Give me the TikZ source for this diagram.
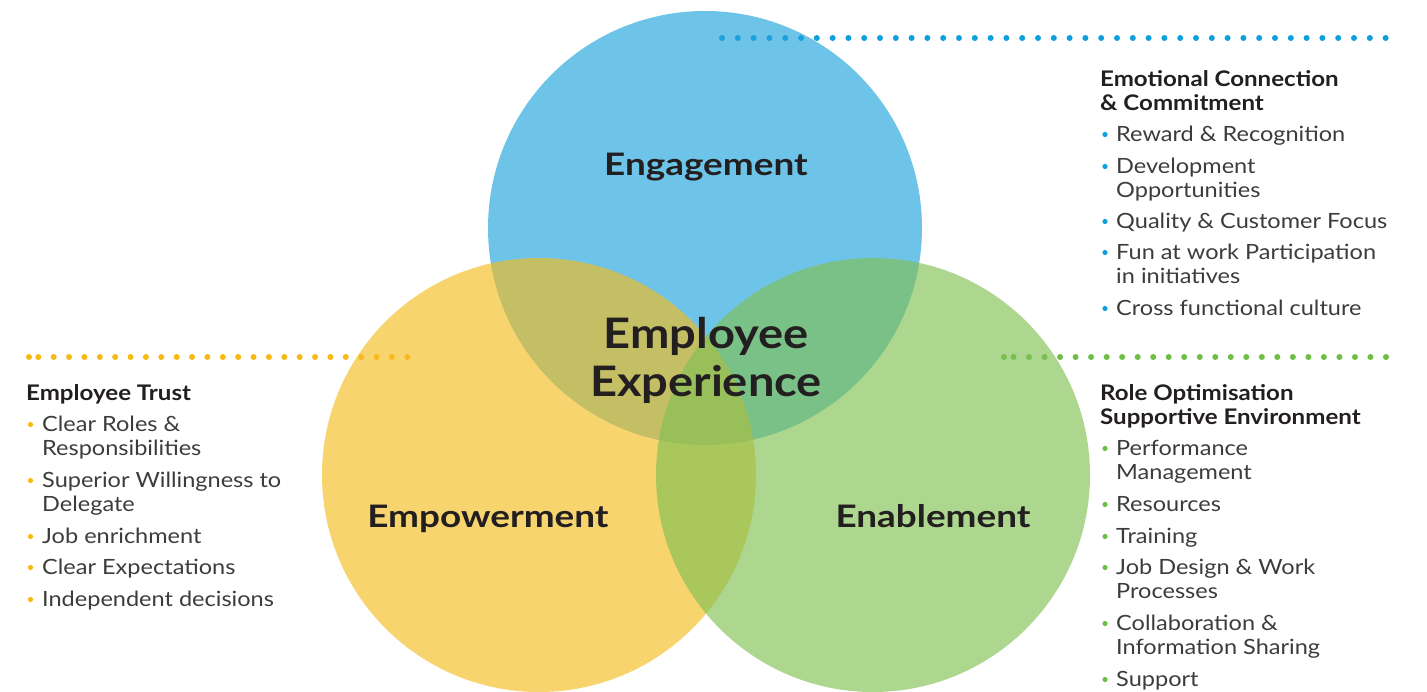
\documentclass[tikz,border=0pt]{standalone}
\usepackage{fontspec}
\setmainfont{Lato}
\newfontfamily\itemfont[FakeStretch=1.12]{Lato}
\newfontfamily\labfont[FakeStretch=1.12]{Lato}
\newfontfamily\circfont[FakeStretch=1.19]{Lato}
\definecolor{cblue}{RGB}{32,164,220}
\definecolor{cyellow}{RGB}{243,189,32}
\definecolor{cgreen}{RGB}{129,192,83}
\definecolor{dblue}{RGB}{14,160,220}
\definecolor{dyellow}{RGB}{246,186,18}
\definecolor{dgreen}{RGB}{108,190,68}
\definecolor{darktext}{RGB}{35,31,32}
\definecolor{itemgray}{RGB}{60,60,60}
\tikzset{
  circ/.style={fill opacity=0.65},
  itemtext/.style={anchor=base west, inner sep=0pt, text=itemgray, font=\itemfont\fontsize{21}{24}\selectfont},
  headtext/.style={anchor=base west, inner sep=0pt, text=darktext, font=\itemfont\bfseries\fontsize{21.5}{24}\selectfont},
  bigtext/.style={anchor=base, inner sep=0pt, text=darktext, font=\circfont\bfseries\fontsize{31}{36}\selectfont},
  centertext/.style={anchor=base, inner sep=0pt, text=darktext, font=\labfont\bfseries\fontsize{42}{48}\selectfont},
}
\begin{document}
\begin{tikzpicture}[x=1pt,y=-1pt]
\useasboundingbox (0,0) rectangle (1427,691);
\clip (0,0) rectangle (1427,691);
% dotted rules
\foreach \i in {0,...,42} \fill[dblue] (722+\i*15.8,38) circle (3pt);
\fill[dyellow] (29,357) circle (3pt);
\foreach \i in {0,...,24} \fill[dyellow] (38.3+\i*15.375,357) circle (3pt);
\fill[dgreen] (1004,357) circle (3pt);
\foreach \i in {0,...,24} \fill[dgreen] (1013.5+\i*15.52,357) circle (3pt);
% circles
\fill[cblue,circ] (705,228) circle (217pt);
\fill[cyellow,circ] (539,475) circle (217pt);
\fill[cgreen,circ] (873,475) circle (217pt);
% circle labels
\node[bigtext] (eng) at (706,175) {Engagement};
\node[bigtext] (emp) at (488,527) {Empowerment};
\node[bigtext] (ena) at (933,527) {Enablement};
\node[centertext] (ee1) at (706,348) {Employee};
\node[centertext] (ee2) at (706,396) {Experience};
% right top list
\node[headtext] (h1a) at (1100,86) {Emotional Connection};
\node[headtext] (h1b) at (1100,110) {\& Commitment};
\foreach \y in {141,173,228,259,315} \fill[dblue] (1105,\y-6.5) circle (2.6pt);
\node[itemtext] (a1) at (1116,141) {Reward \& Recognition};
\node[itemtext] (a2) at (1116,173) {Development};
\node[itemtext] (a2b) at (1116,197) {Opportunities};
\node[itemtext] (a3) at (1116,228) {Quality \& Customer Focus};
\node[itemtext] (a4) at (1116,259) {Fun at work Participation};
\node[itemtext] (a4b) at (1116,283) {in initiatives};
\node[itemtext] (a5) at (1116,315) {Cross functional culture};
% left list
\node[headtext] (h2) at (26,400) {Employee Trust};
\foreach \y in {431,487,543,574,606} \fill[dyellow] (30.5,\y-6.5) circle (2.6pt);
\node[itemtext] (b1) at (42,431) {Clear Roles \&};
\node[itemtext] (b1b) at (42,455) {Responsibilities};
\node[itemtext] (b2) at (42,487) {Superior Willingness to};
\node[itemtext] (b2b) at (42,511) {Delegate};
\node[itemtext] (b3) at (42,543) {Job enrichment};
\node[itemtext] (b4) at (42,574) {Clear Expectations};
\node[itemtext] (b5) at (42,606) {Independent decisions};
% right bottom list
\node[headtext] (h3a) at (1100,400) {Role Optimisation};
\node[headtext] (h3b) at (1100,424) {Supportive Environment};
\foreach \y in {455,511,543,574,630,686} \fill[dgreen] (1105,\y-6.5) circle (2.6pt);
\node[itemtext] (c1) at (1116,455) {Performance};
\node[itemtext] (c1b) at (1116,479) {Management};
\node[itemtext] (c2) at (1116,511) {Resources};
\node[itemtext] (c3) at (1116,543) {Training};
\node[itemtext] (c4) at (1116,574) {Job Design \& Work};
\node[itemtext] (c4b) at (1116,598) {Processes};
\node[itemtext] (c5) at (1116,630) {Collaboration \&};
\node[itemtext] (c5b) at (1116,654) {Information Sharing};
\node[itemtext] (c6) at (1116,686) {Support};
\end{tikzpicture}
\end{document}
